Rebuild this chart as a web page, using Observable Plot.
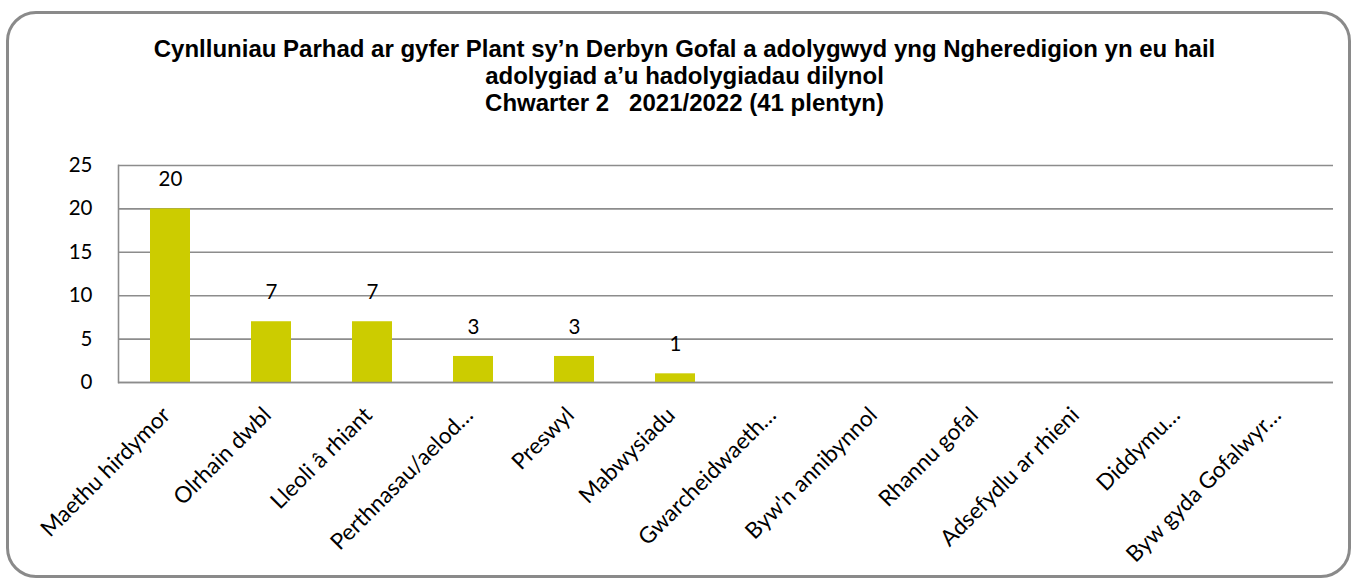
<!DOCTYPE html>
<html>
<head>
<meta charset="utf-8">
<script src="https://cdn.jsdelivr.net/npm/d3@7"></script>
<script src="https://cdn.jsdelivr.net/npm/@observablehq/plot@0.6"></script>
<style>
  body { margin: 0; background: #fff; width: 1354px; height: 579px; overflow: hidden; position: relative; }
  #frame { position: absolute; left: 6px; top: 11px; width: 1345px; height: 567px; border: 3px solid #8a8a8a; border-radius: 30px; box-sizing: border-box; }
  #title { position: absolute; left: 0; top: 35px; width: 1369px; text-align: center; font-family: "Liberation Sans", Arial, sans-serif; font-weight: bold; font-size: 24px; line-height: 27px; color: #000; }
  #chart { position: absolute; left: 0; top: 140px; }
</style>
</head>
<body>
<div id="frame"></div>
<div id="title">Cynlluniau Parhad ar gyfer Plant sy’n Derbyn Gofal a adolygwyd yng Ngheredigion yn eu hail<br>adolygiad a’u hadolygiadau dilynol<br>Chwarter 2&nbsp;&nbsp;&nbsp;2021/2022 (41 plentyn)</div>
<div id="chart"></div>
<script>
const categories = ["Maethu hirdymor", "Olrhain dwbl", "Lleoli â rhiant", "Perthnasau/aelod…", "Preswyl", "Mabwysiadu", "Gwarcheidwaeth…", "Byw'n annibynnol", "Rhannu gofal", "Adsefydlu ar rhieni", "Diddymu…", "Byw gyda Gofalwyr…"];
const values = [20, 7, 7, 3, 3, 1, 0, 0, 0, 0, 0, 0];
const yTicks = [0, 5, 10, 15, 20, 25];

const data = categories.map((c, i) => ({category: c, value: values[i]}));
const labelled = data.filter(d => d.value > 0);

const chart = Plot.plot({
  width: 1354,
  height: 439,
  marginLeft: 118,
  marginRight: 21,
  marginTop: 25,
  marginBottom: 197,
  style: {fontFamily: "Lato, 'Open Sans', sans-serif", fontSize: "20.5px", color: "#000", background: "transparent"},
  x: {domain: categories, paddingInner: 0.6, paddingOuter: 0.3, label: null, axis: null},
  y: {domain: [0, 25], ticks: yTicks, label: null, axis: null},
  marks: [
    Plot.gridY(yTicks, {stroke: "#8c8c8c", strokeOpacity: 1, strokeWidth: 1.6}),
    Plot.frame({anchor: "left", stroke: "#8c8c8c", strokeWidth: 1.6}),
    Plot.barY(data, {x: "category", y: "value", fill: "#cccc00"}),
    Plot.ruleY([0], {stroke: "#8c8c8c", strokeWidth: 1.6}),
    Plot.axisY(yTicks, {tickSize: 0, tickPadding: 26, fontSize: 20.5, fill: "#000", label: null}),
    Plot.text(categories, {x: d => d, frameAnchor: "bottom", rotate: -45, textAnchor: "end", lineAnchor: "bottom", dx: 1, dy: 34, fontSize: 22.5, fill: "#000"}),
    Plot.text(labelled, {x: "category", y: "value", text: d => String(d.value), dy: -29, fontSize: 20.5, fill: "#000"})
  ]
});
document.getElementById("chart").appendChild(chart);
</script>
</body>
</html>
